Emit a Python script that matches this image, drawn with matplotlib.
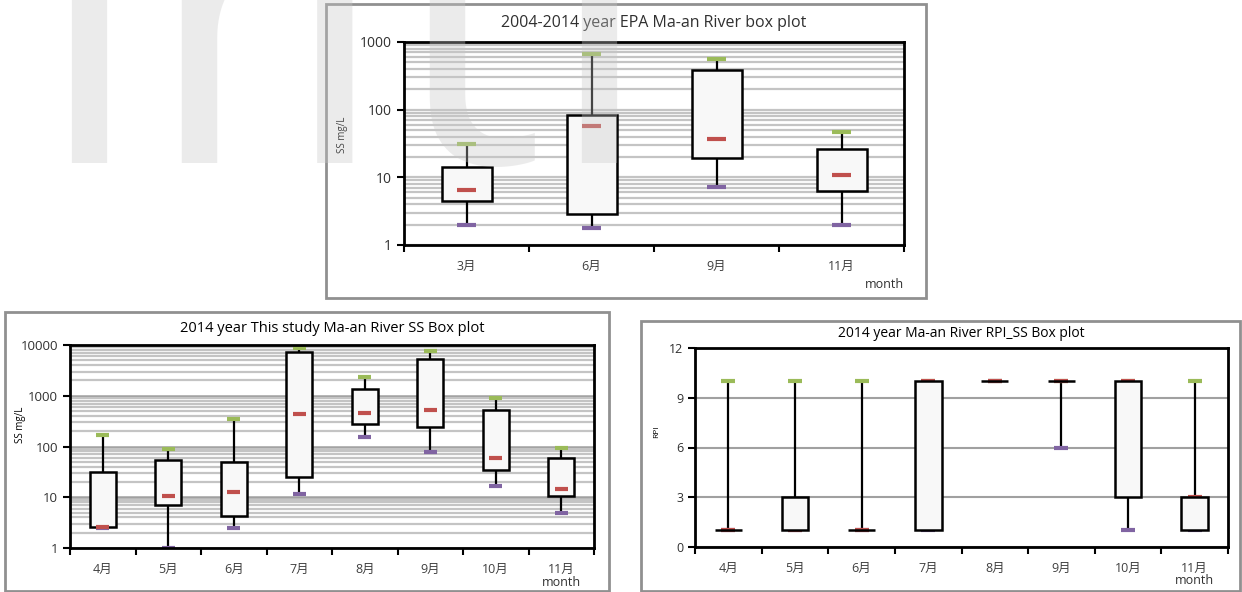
import matplotlib.pyplot as plt
from matplotlib.patches import Rectangle

plt.rcParams['font.family'] = ['Open Sans', 'Noto Sans CJK TC', 'DejaVu Sans']

# --- data: low whisker, q1, median, q3, high whisker per month ---
epa_months = ['3月', '6月', '9月', '11月']
epa_low = [2.0, 1.8, 7.2, 2.0]
epa_q1 = [4.4, 2.9, 19.2, 6.2]
epa_med = [6.4, 58, 36.6, 11]
epa_q3 = [14.2, 84, 382, 25.8]
epa_high = [31.6, 665, 562, 47.5]

ss_months = ['4月', '5月', '6月', '7月', '8月', '9月', '10月', '11月']
ss_low = [2.5, 1.0, 2.44, 11.6, 154, 79, 16.7, 4.8]
ss_q1 = [2.6, 7.0, 4.3, 25, 277, 242, 34.4, 10.7]
ss_med = [2.6, 10.6, 12.9, 443, 457, 516, 58.5, 14.3]
ss_q3 = [32, 55, 49.5, 7180, 1337, 5300, 524, 58.5]
ss_high = [165, 88, 350, 8600, 2340, 7620, 903, 92]

rpi_low = [1, 1, 1, 1, 10, 6, 1, 1]
rpi_q1 = [1, 1, 1, 1, 10, 10, 3, 1]
rpi_med = [1, 1, 1, 10, 10, 10, 10, 3]
rpi_q3 = [1, 3, 1, 10, 10, 10, 10, 3]
rpi_high = [10, 10, 10, 10, 10, 10, 10, 10]

GREEN = '#9bbb59'
PURPLE = '#8064a2'
RED = '#c0504d'
W, H = 1242, 592


def draw_boxes(ax, low, q1, med, q3, high, cap, med_top=True):
    for i in range(len(low)):
        ax.vlines(i, low[i], high[i], color='black', lw=1.6, zorder=2)
        ax.hlines(high[i], i - cap, i + cap, color=GREEN, lw=3, zorder=2.5)
        ax.hlines(low[i], i - cap, i + cap, color=PURPLE, lw=3, zorder=2.5)
        if not med_top:
            ax.hlines(med[i], i - cap, i + cap, color=RED, lw=3, zorder=2.7)
        ax.bar(i, q3[i] - q1[i], bottom=q1[i], width=0.4, facecolor='#f8f8f8',
               edgecolor='black', lw=1.8, zorder=3)
        if med_top:
            ax.hlines(med[i], i - cap, i + cap, color=RED, lw=3, zorder=4)


def style_axes(ax, labels, ysize=9):
    n = len(labels)
    ax.set_xlim(-0.5, n - 0.5)
    ax.set_xticks(range(n))
    ax.set_xticklabels(labels)
    ax.set_xticks([i - 0.5 for i in range(n + 1)], minor=True)
    ax.tick_params(axis='x', which='major', length=0, pad=11, labelsize=9, labelcolor='#404040')
    ax.tick_params(axis='x', which='minor', length=5, width=1.5, direction='out')
    ax.tick_params(axis='y', which='major', length=5, width=1.5, labelsize=ysize, labelcolor='#303030')
    ax.tick_params(axis='y', which='minor', length=0)
    for s in ax.spines.values():
        s.set_linewidth(2)
        s.set_color('black')
    ax.set_axisbelow(True)


def px_axes(x0, y0, x1, y1):
    return fig.add_axes([x0 / W, 1 - y1 / H, (x1 - x0) / W, (y1 - y0) / H])


fig = plt.figure(figsize=(W / 100, H / 100), dpi=100)

# outer frames
for (x0, y0, x1, y1) in [(326, 4, 926, 298), (5, 312, 609, 591), (641, 321, 1240, 591)]:
    fig.patches.append(Rectangle((x0 / W, 1 - y1 / H), (x1 - x0) / W, (y1 - y0) / H,
                                 transform=fig.transFigure, fill=False,
                                 edgecolor='#909090', lw=2))

# top: EPA
ax1 = px_axes(404, 42, 904, 245)
ax1.set_yscale('log')
ax1.set_ylim(1, 1000)
ax1.set_yticks([1, 10, 100, 1000])
ax1.set_yticklabels(['1', '10', '100', '1000'])
ax1.yaxis.grid(True, which='both', color='#c4c4c4', lw=1.6)
draw_boxes(ax1, epa_low, epa_q1, epa_med, epa_q3, epa_high, cap=0.075)
style_axes(ax1, epa_months, ysize=10)
ax1.set_title('2004-2014 year EPA Ma-an River box plot', fontsize=11.5, color='#303030', pad=11)
fig.text(904 / W, 1 - 285 / H, 'month', fontsize=9, ha='right', va='center', color='#303030')
fig.text(343 / W, 1 - 135 / H, 'SS mg/L', fontsize=7, rotation=90, ha='center', va='center')

# bottom left: SS this study
ax2 = px_axes(70, 345, 594, 548)
ax2.set_yscale('log')
ax2.set_ylim(1, 10000)
ax2.set_yticks([1, 10, 100, 1000, 10000])
ax2.set_yticklabels(['1', '10', '100', '1000', '10000'])
ax2.yaxis.grid(True, which='minor', color='#c4c4c4', lw=1.6)
ax2.yaxis.grid(True, which='major', color='#a0a0a0', lw=1.8)
draw_boxes(ax2, ss_low, ss_q1, ss_med, ss_q3, ss_high, cap=0.1)
style_axes(ax2, ss_months, ysize=9.5)
ax2.set_title('2014 year This study Ma-an River SS Box plot', fontsize=10.5, color='black', pad=9)
fig.text(ax2.get_position().x0 + 7.5 / 8 * ax2.get_position().width, 1 - 583 / H, 'month',
         fontsize=9, ha='center', va='center', color='#303030')
fig.text(20 / W, 1 - 425 / H, 'SS mg/L', fontsize=7, rotation=90, ha='center', va='center')

# bottom right: RPI
ax3 = px_axes(695, 348, 1228, 547)
ax3.set_ylim(0, 12)
ax3.set_yticks([0, 3, 6, 9, 12])
ax3.yaxis.grid(True, which='major', color='#a0a0a0', lw=1.5)
draw_boxes(ax3, rpi_low, rpi_q1, rpi_med, rpi_q3, rpi_high, cap=0.105, med_top=False)
style_axes(ax3, ss_months)
ax3.set_title('2014 year Ma-an River RPI_SS Box plot', fontsize=10, color='black', pad=8)
fig.text(ax3.get_position().x0 + 7.5 / 8 * ax3.get_position().width, 1 - 581 / H, 'month',
         fontsize=9, ha='center', va='center', color='#303030')
fig.text(657 / W, 1 - 432 / H, 'RPI', fontsize=6, rotation=90, ha='center', va='center')

# faint watermark across the top ("air" + "iti")
wm = dict(fontsize=313, ha='left', va='baseline', color='#c8c8c8', alpha=0.35, zorder=10)
fig.text(-207 / W, 1 - 163 / H, 'air', **wm)
fig.text(280 / W, 1 - 163 / H, 'iti', **wm)

fig.savefig('out.png', dpi=100)
